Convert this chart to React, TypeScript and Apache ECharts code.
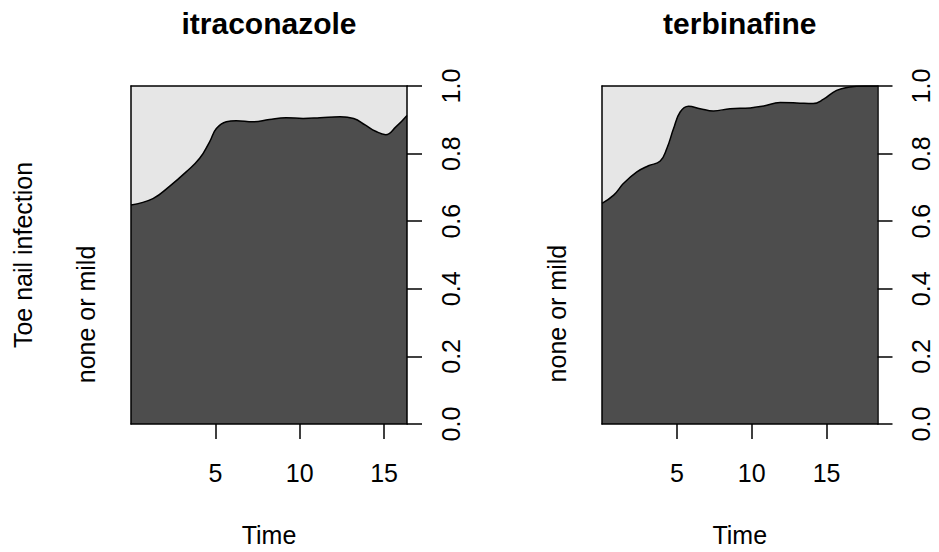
import React, { useEffect, useRef } from "react";
import * as echarts from "echarts";

// ---- data ----
const panelTitles = ["itraconazole", "terbinafine"];
const categoryLabel = "none or mild";
const responseLabel = "Toe nail infection";
const xName = "Time";

const itraTime = [0, 1.3, 2.3, 3.27, 4.07, 4.66, 5.06, 5.65, 6.24, 7.23, 8.2, 9.2, 10.2, 11.2, 12.4, 13.2, 13.9, 14.5, 15.1, 15.7, 16.36];
const itraProb = [0.648, 0.667, 0.704, 0.746, 0.786, 0.835, 0.874, 0.894, 0.897, 0.894, 0.901, 0.906, 0.904, 0.906, 0.909, 0.904, 0.884, 0.866, 0.856, 0.879, 0.913];

const terbTime = [0, 0.78, 1.44, 2.33, 3.1, 3.89, 4.33, 4.78, 5.22, 5.78, 6.55, 7.44, 8.55, 9.89, 10.8, 11.9, 13.0, 14.1, 14.8, 15.67, 16.55, 17.5, 18.4];
const terbProb = [0.653, 0.677, 0.712, 0.746, 0.764, 0.778, 0.815, 0.874, 0.923, 0.94, 0.933, 0.926, 0.933, 0.935, 0.941, 0.951, 0.95, 0.948, 0.961, 0.987, 0.997, 1.0, 1.0];

const xRanges = [
  [0, 16.36],
  [0, 18.4],
];
const xTicks = [5, 10, 15];
const yTickStep = 0.2;

const FONT = "'Liberation Sans', Arial, Helvetica, sans-serif";

export default function App() {
  const ref = useRef<HTMLDivElement>(null);

  useEffect(() => {
    if (!ref.current) return;
    const chart = echarts.init(ref.current, null, { renderer: "svg" });

    const grids = [
      { left: 131, top: 86, width: 276, height: 338 },
      { left: 602, top: 86, width: 275.5, height: 338 },
    ];
    const series = [
      { t: itraTime, p: itraProb },
      { t: terbTime, p: terbProb },
    ];

    const lineColor = "#000";
    const xAxes: any[] = [];
    const yAxes: any[] = [];
    grids.forEach((_, i) => {
      xAxes.push({
        gridIndex: i,
        type: "value",
        min: xRanges[i][0],
        max: xRanges[i][1],
        position: "bottom",
        z: 10,
        axisLine: { show: true, onZero: false, lineStyle: { color: lineColor, width: 1.5 } },
        axisTick: { show: true, length: 15, customValues: xTicks, lineStyle: { color: lineColor, width: 1.5 } },
        axisLabel: { customValues: xTicks, fontSize: 25, color: "#000", fontFamily: FONT, margin: 36 },
        splitLine: { show: false },
      });
      xAxes.push({
        gridIndex: i,
        type: "value",
        min: xRanges[i][0],
        max: xRanges[i][1],
        position: "top",
        z: 10,
        axisLine: { show: true, onZero: false, lineStyle: { color: lineColor, width: 1.5 } },
        axisTick: { show: false },
        axisLabel: { show: false },
        splitLine: { show: false },
      });
      yAxes.push({
        gridIndex: i,
        type: "value",
        min: 0,
        max: 1,
        interval: yTickStep,
        position: "right",
        z: 10,
        axisLine: { show: true, onZero: false, lineStyle: { color: lineColor, width: 1.5 } },
        axisTick: { show: true, length: 15, lineStyle: { color: lineColor, width: 1.5 } },
        axisLabel: {
          rotate: 90,
          fontSize: 25,
          color: "#000",
          fontFamily: FONT,
          margin: 31,
          formatter: (v: number) => v.toFixed(1),
        },
        splitLine: { show: false },
      });
      yAxes.push({
        gridIndex: i,
        type: "value",
        min: 0,
        max: 1,
        position: "left",
        z: 10,
        axisLine: { show: true, onZero: false, lineStyle: { color: lineColor, width: 1.5 } },
        axisTick: { show: false },
        axisLabel: { show: false },
        splitLine: { show: false },
      });
    });

    const option: any = {
      animation: false,
      backgroundColor: "#fff",
      title: panelTitles.map((t, i) => ({
        text: t,
        left: grids[i].left + grids[i].width / 2,
        top: 8,
        textAlign: "center",
        padding: 0,
        textStyle: { fontSize: 30, fontWeight: "bold", color: "#000", fontFamily: FONT },
      })),
      grid: grids.map((g) => ({
        ...g,
        show: true,
        backgroundColor: "#E6E6E6",
        borderWidth: 0,
      })),
      xAxis: xAxes,
      yAxis: yAxes,
      series: series.map((s, i) => ({
        type: "line",
        xAxisIndex: i * 2,
        yAxisIndex: i * 2,
        data: s.t.map((t, k) => [t, s.p[k]]),
        smooth: 0.45,
        showSymbol: false,
        symbol: "none",
        lineStyle: { color: "#000", width: 1.5 },
        areaStyle: { color: "#4D4D4D", opacity: 1, origin: "start" },
        z: 2,
      })),
    };
    chart.setOption(option);

    // text labels placed via the chart's own coordinate conversion
    const graphics: any[] = [];
    grids.forEach((g, i) => {
      const cx = g.left + g.width / 2;
      graphics.push({
        type: "text",
        x: cx,
        y: 535,
        style: { text: xName, fontSize: 25, fill: "#000", fontFamily: FONT, textAlign: "center", textVerticalAlign: "middle" },
      });
      const pt = chart.convertToPixel({ gridIndex: i } as any, [xRanges[i][0], series[i].p[0] / 2]) as number[];
      graphics.push({
        type: "text",
        x: g.left - 45,
        y: pt[1],
        rotation: Math.PI / 2,
        style: { text: categoryLabel, fontSize: 25, fill: "#000", fontFamily: FONT, textAlign: "center", textVerticalAlign: "middle" },
      });
    });
    graphics.push({
      type: "text",
      x: 23,
      y: grids[0].top + grids[0].height / 2,
      rotation: Math.PI / 2,
      style: { text: responseLabel, fontSize: 25, fill: "#000", fontFamily: FONT, textAlign: "center", textVerticalAlign: "middle" },
    });
    chart.setOption({ graphic: graphics });

    return () => chart.dispose();
  }, []);

  return <div ref={ref} style={{ position: "fixed", left: 0, top: 0, width: 939, height: 552 }} />;
}
